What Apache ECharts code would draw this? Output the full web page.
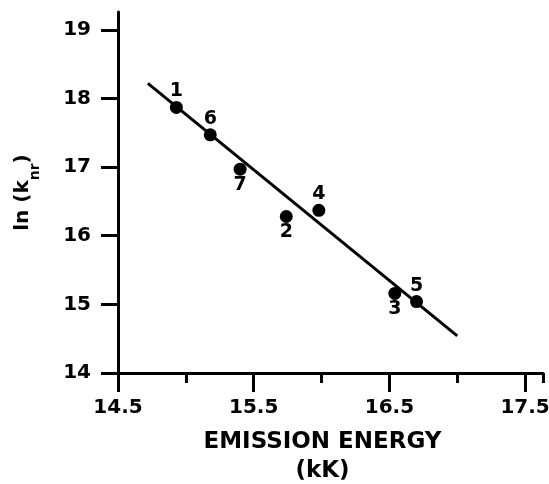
<!DOCTYPE html>
<html>
<head>
<meta charset="utf-8">
<script src="https://cdn.jsdelivr.net/npm/echarts@6/dist/echarts.min.js"></script>
<style>
html,body{margin:0;padding:0;background:#fff;}
#c{width:549px;height:484px;}
</style>
</head>
<body>
<div id="c"></div>
<script>
// Data
var pointIds = ['1', '2', '3', '4', '5', '6', '7'];
var emissionEnergy = [14.93, 15.74, 16.54, 15.98, 16.70, 15.18, 15.40];
var lnKnr = [17.87, 16.28, 15.16, 16.37, 15.04, 17.47, 16.97];
var labelPos = ['top', 'bottom', 'bottom', 'top', 'top', 'top', 'bottom'];
var fitX = [14.72, 17.00];
var fitY = [18.22, 14.54];
var xTickLabels = ['14.5', '15.5', '16.5', '17.5'];
var yTickLabels = ['14', '15', '16', '17', '18', '19'];

var FONT = 'DejaVu Sans';
var chart = echarts.init(document.getElementById('c'), null, {renderer: 'canvas'});

var scatterData = pointIds.map(function (id, i) {
  return {
    value: [emissionEnergy[i], lnKnr[i]],
    name: id,
    label: {position: labelPos[i]}
  };
});
var lineData = fitX.map(function (x, i) { return [x, fitY[i]]; });

var xMin = 14.5, xMax = 17.632, yMin = 14, yMax = 19.26;

chart.setOption({
  animation: false,
  backgroundColor: '#fff',
  grid: {left: 118, right: 6, top: 12, bottom: 111, containLabel: false, outerBoundsMode: 'none'},
  xAxis: [
    {
      type: 'value', min: xMin, max: xMax, interval: 0.5,
      axisLine: {show: true, onZero: false, lineStyle: {color: '#000', width: 3}},
      axisTick: {show: true, length: 10, lineStyle: {color: '#000', width: 3}},
      axisLabel: {show: false},
      splitLine: {show: false}
    },
    {
      type: 'value', min: xMin, max: xMax, interval: 1, position: 'bottom',
      axisLine: {show: false, onZero: false},
      axisTick: {show: true, length: 19, lineStyle: {color: '#000', width: 3}},
      axisLabel: {
        show: true, margin: 25, color: '#000', fontFamily: FONT, fontWeight: 'bold', fontSize: 20,
        formatter: function (v) {
          var s = v.toFixed(1);
          return xTickLabels.indexOf(s) >= 0 ? s : '';
        },
        showMaxLabel: false
      },
      splitLine: {show: false},
      name: 'EMISSION ENERGY\n(kK)',
      nameLocation: 'middle',
      nameGap: 55,
      nameTextStyle: {color: '#000', fontFamily: FONT, fontWeight: 'bold', fontSize: 23, lineHeight: 29, padding: [0, 16, 0, 0]}
    }
  ],
  yAxis: {
    type: 'value', min: yMin, max: yMax, interval: 1,
    axisLine: {show: true, onZero: false, lineStyle: {color: '#000', width: 3}},
    axisTick: {show: true, length: 17, lineStyle: {color: '#000', width: 3}},
    axisLabel: {
      show: true, margin: 27, color: '#000', fontFamily: FONT, fontWeight: 'bold', fontSize: 20,
      formatter: function (v) {
        var s = String(Math.round(v));
        return yTickLabels.indexOf(s) >= 0 && Math.abs(v - Math.round(v)) < 1e-6 ? s : '';
      },
      showMaxLabel: false
    },
    splitLine: {show: false},
    name: '{a|ln (k}{s|nr}{a|)}',
    nameLocation: 'middle',
    nameGap: 80,
    nameRotate: 90,
    nameTextStyle: {
      color: '#000',
      rich: {
        a: {fontFamily: FONT, fontWeight: 'bold', fontSize: 20, color: '#000', lineHeight: 30, verticalAlign: 'middle'},
        s: {fontFamily: FONT, fontWeight: 'bold', fontSize: 14, color: '#000', lineHeight: 30, verticalAlign: 'bottom', padding: [0, 0, -4, 0]}
      }
    }
  },
  series: [
    {
      type: 'line', data: lineData, xAxisIndex: 0, symbol: 'none',
      lineStyle: {color: '#000', width: 3}, z: 2, silent: true
    },
    {
      type: 'scatter', data: scatterData, xAxisIndex: 0, symbol: 'circle', symbolSize: 13,
      itemStyle: {color: '#000', opacity: 1},
      label: {
        show: true, distance: 0, color: '#000', opacity: 1, fontFamily: FONT, fontWeight: 'bold', fontSize: 19,
        formatter: function (p) { return p.name; }
      },
      z: 3
    }
  ]
});
</script>
</body>
</html>
